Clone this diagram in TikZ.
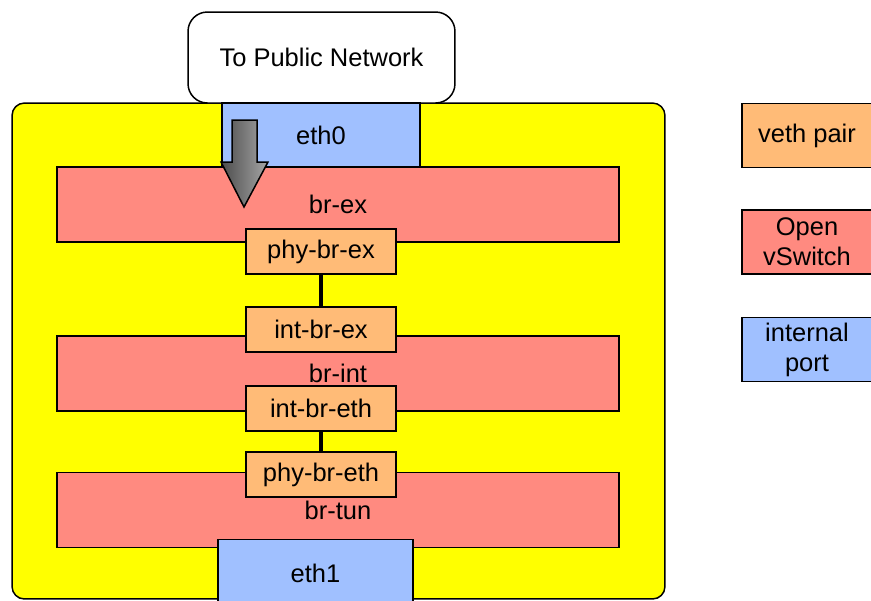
\documentclass[tikz,border=0pt]{standalone}
\usepackage{fontspec}
\setmainfont{Liberation Sans}
\usepackage{tikz}
\usetikzlibrary{positioning, calc}
\definecolor{HostYellow}{HTML}{FFFF00}
\definecolor{BridgeRed}{HTML}{FF8A80}
\definecolor{VethOrange}{HTML}{FFBB77}
\definecolor{PortBlue}{HTML}{A0C0FF}

\begin{document}
\begin{tikzpicture}[x=0.02cm, y=-0.02cm,
    box/.style={rectangle, draw=black, line width=0.85pt, inner sep=0pt,
                font=\fontsize{14.5}{17}\selectfont, align=center},
    bridge/.style={box, fill=BridgeRed, minimum width=11.24cm, minimum height=1.5cm},
    veth/.style={box, fill=VethOrange, minimum width=3cm, minimum height=0.9cm},
    legend/.style={box, minimum width=2.6cm, minimum height=1.28cm}]

    \useasboundingbox (0,0) rectangle (871,600);

    % Host
    \node[box, fill=HostYellow, rounded corners=7pt,
          minimum width=13.06cm, minimum height=9.92cm] (host) at (338.5,351) {};
    \node[box, fill=white, rounded corners=11pt,
          minimum width=5.34cm, minimum height=1.82cm] (pub) at (321.5,57.5) {To Public Network};

    % Bridges
    \node[bridge] (brex) at (338,204.5) {br-ex};
    \node[bridge] (brint) at (338,373.5) {br-int};
    \node[bridge] (brtun) at (338,510) {br-tun};

    % Veth pairs
    \node[veth] (phyex) at (321,251.5) {phy-br-ex};
    \node[veth] (intex) at (321,329.5) {int-br-ex};
    \node[veth] (inteth) at (321,408.5) {int-br-eth};
    \node[veth] (phyeth) at (321,474.5) {phy-br-eth};

    \draw[line width=2pt] (phyex.south) -- (intex.north);
    \draw[line width=2pt] (inteth.south) -- (phyeth.north);

    % Internal ports
    \node[box, fill=PortBlue, minimum width=3.96cm, minimum height=1.28cm] (eth0) at (321,135) {eth0};
    \node[box, fill=PortBlue, minimum width=3.9cm, minimum height=1.34cm] (eth1) at (315.5,573) {eth1};

    % Arrow
    \shade[left color=black!70, right color=black!35, draw=black, line width=0.85pt]
        (232,120) -- (257,120) -- (257,162) -- (268,162) -- (244,207)
        -- (221,162) -- (232,162) -- cycle;

    % Legend
    \node[legend, fill=VethOrange] (lgveth) at (807,135.5) {veth pair};
    \node[legend, fill=BridgeRed] (lgovs) at (807,242) {Open\\vSwitch};
    \node[legend, fill=PortBlue] (lgport) at (807,349.5) {internal\\port};
\end{tikzpicture}
\end{document}
